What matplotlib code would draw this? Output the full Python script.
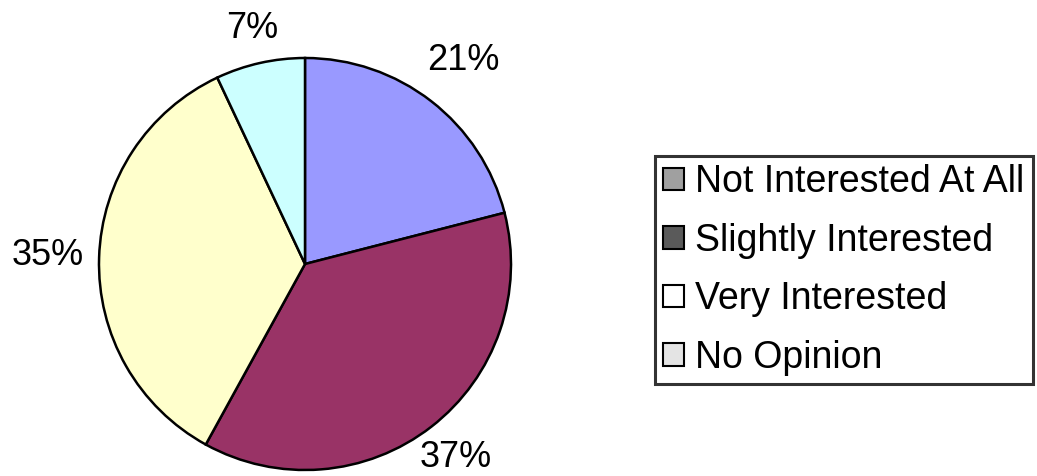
import numpy as np
import matplotlib.pyplot as plt
from matplotlib.patches import Patch

categories = ["Not Interested At All", "Slightly Interested", "Very Interested", "No Opinion"]
shares = [21, 37, 35, 7]
slice_colors = ["#9999FF", "#993366", "#FFFFCC", "#CCFFFF"]
legend_colors = ["#A0A0A0", "#5A5A5A", "#FFFFFF", "#E4E4E4"]
label_dist = [1.25, 1.19, 1.25, 1.17]

W, H = 1037, 476
CX, CY, R = 305, H - 264, 206

fig = plt.figure(figsize=(W / 100, H / 100), dpi=100)
ax = fig.add_axes([0, 0, 1, 1])
plt.rcParams['font.family'] = ['Liberation Sans', 'DejaVu Sans']

wedges, _ = ax.pie(shares, colors=slice_colors, startangle=90, counterclock=False,
                   center=(CX, CY), radius=R,
                   wedgeprops=dict(edgecolor="black", linewidth=1.8))

# percent labels outside each wedge
for w, v, d in zip(wedges, shares, label_dist):
    mid = np.deg2rad((w.theta1 + w.theta2) / 2)
    ax.text(CX + d * R * np.cos(mid), CY + d * R * np.sin(mid), f"{v}%",
            ha="center", va="center", fontsize=26)

ax.set_xlim(0, W)
ax.set_ylim(0, H)
ax.set_aspect("equal")
ax.axis("off")

handles = [Patch(facecolor=c, edgecolor="black", linewidth=1.5) for c in legend_colors]
leg = fig.legend(handles, categories, loc="upper left",
                 bbox_to_anchor=(655 / W, 1 - 156 / H), borderaxespad=0,
                 fontsize=27, handlelength=0.55, handleheight=0.55,
                 handletextpad=0.3, labelspacing=0.6, borderpad=0.22,
                 fancybox=False, frameon=True)
leg.get_frame().set_edgecolor("black")
leg.get_frame().set_linewidth(2.2)

fig.savefig("out.png", dpi=100)
